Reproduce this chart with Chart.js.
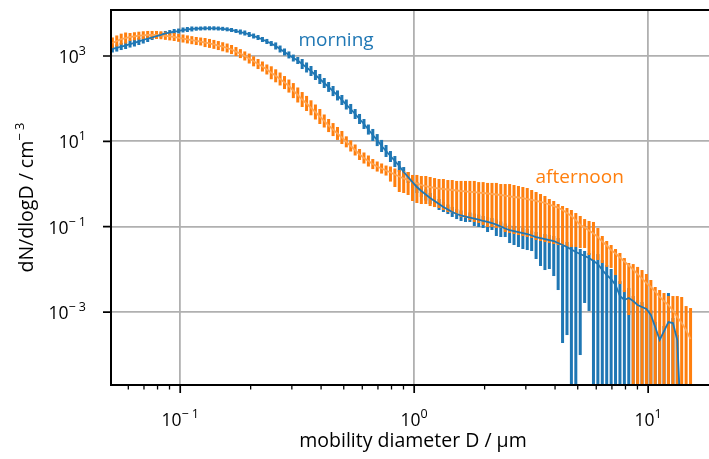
<!DOCTYPE html>
<html><head><meta charset="utf-8">
<script src="https://cdn.jsdelivr.net/npm/chart.js@4.4.1/dist/chart.umd.min.js"></script>
<style>html,body{margin:0;padding:0;background:#fff}#wrap{width:709px;height:459px;position:relative}canvas{display:block}</style>
</head><body><div id="wrap"><canvas id="c" width="709" height="459" style="width:709px;height:459px"></canvas></div>
<script>
// mobility diameter D / µm (shared by both series)
const diameters = [
0.05129,0.05356,0.05594,0.05843,0.06102,0.06373,0.06656,0.06952,0.07261,0.07583,
0.07920,0.08271,0.08639,0.09022,0.09423,0.09841,0.1028,0.1073,0.1121,0.1171,
0.1223,0.1277,0.1334,0.1393,0.1455,0.1519,0.1587,0.1657,0.1731,0.1808,
0.1888,0.1972,0.2059,0.2151,0.2246,0.2346,0.2450,0.2559,0.2672,0.2791,
0.2915,0.3044,0.3180,0.3321,0.3468,0.3622,0.3783,0.3951,0.4126,0.4309,
0.4501,0.4701,0.4909,0.5127,0.5355,0.5593,0.5841,0.6101,0.6372,0.6654,
0.6950,0.7258,0.7581,0.7917,0.8269,0.8636,0.9019,0.9420,0.9838,1.027,
1.073,1.121,1.170,1.222,1.277,1.333,1.393,1.454,1.519,1.586,
1.657,1.730,1.807,1.887,1.971,2.059,2.150,2.245,2.345,2.449,
2.558,2.671,2.790,2.914,3.043,3.178,3.319,3.467,3.621,3.781,
3.949,4.124,4.307,4.499,4.698,4.907,5.125,5.352,5.590,5.838,
6.097,6.368,6.651,6.946,7.254,7.576,7.913,8.264,8.631,9.014,
9.414,9.832,10.27,10.72,11.20,11.69,12.21,12.76,13.32,13.91,
14.53,15.18];

// morning: dN/dlogD / cm^-3 (centre, upper and lower end of the error bar; 0 = reaches below the axis)
const morning = [
1.46e3,1.54e3,1.67e3,1.76e3,1.91e3,2.02e3,2.19e3,2.37e3,2.57e3,2.71e3,
2.94e3,3.11e3,3.37e3,3.55e3,3.75e3,3.85e3,4.07e3,4.18e3,4.30e3,4.36e3,
4.41e3,4.46e3,4.46e3,4.46e3,4.41e3,4.34e3,4.22e3,4.07e3,3.85e3,3.65e3,
3.46e3,3.19e3,2.94e3,2.71e3,2.44e3,2.19e3,1.96e3,1.72e3,1.46e3,1.24e3,
1.06e3,898,784,649,538,445,359,289,233,188,
151,119,93.1,73.0,57.3,43.7,33.4,25.5,18.9,14.1,
10.7,7.78,5.94,4.53,3.46,2.64,1.91,1.46,1.11,0.851,
0.686,0.568,0.470,0.400,0.340,0.289,0.253,0.221,0.198,0.183,
0.173,0.164,0.155,0.147,0.136,0.129,0.122,0.112,0.101,0.0907,
0.0836,0.0792,0.0750,0.0711,0.0674,0.0621,0.0573,0.0543,0.0514,0.0487,
0.0462,0.0414,0.0372,0.0334,0.0292,0.0255,0.0229,0.0206,0.0184,0.0157,
0.0133,0.00965,0.00737,0.00594,0.00430,0.00237,0.00191,0.00213,0.00181,0.00146,
0.00131,0.00118,0.000851,0.000446,0.000221,0.000359,0.000583,0.000553,0.000221,1e-6,
null,null];
const morningHigh = [
1.76e3,1.86e3,2.02e3,2.13e3,2.31e3,2.44e3,2.65e3,2.86e3,3.10e3,3.10e3,
3.36e3,3.56e3,3.86e3,4.06e3,4.29e3,4.40e3,4.66e3,4.78e3,4.92e3,4.86e3,
4.91e3,4.97e3,4.97e3,4.97e3,4.91e3,4.83e3,4.70e3,4.53e3,4.29e3,4.18e3,
3.96e3,3.65e3,3.36e3,3.10e3,2.79e3,2.51e3,2.24e3,2.08e3,1.76e3,1.50e3,
1.28e3,1.08e3,947,850,705,583,470,379,305,246,
198,156,122,95.6,75.1,57.2,43.8,33.4,24.8,19.5,
14.8,10.8,8.21,5.93,4.53,3.46,2.50,1.91,1.45,1.11,
0.899,0.744,0.616,0.524,0.445,0.379,0.331,0.290,0.259,0.240,
0.227,0.215,0.203,0.193,0.178,0.169,0.160,0.147,0.132,0.119,
0.110,0.104,0.0983,0.0931,0.0883,0.0814,0.0751,0.0711,0.0673,0.0638,
0.0605,0.0542,0.0487,0.0438,0.0383,0.0334,0.0300,0.0270,0.0241,0.0269,
0.0228,0.0165,0.0126,0.0102,0.00737,0.00530,0.00328,0.00365,0.00237,0.00191,
0.00172,0.00155,0.00111,0.000584,0.000290,0.000470,0.00279,0.000724,0.000290,null,
null,null];
const morningLow = [
1.21e3,1.27e3,1.38e3,1.46e3,1.58e3,1.67e3,1.81e3,1.96e3,2.13e3,2.37e3,
2.57e3,2.72e3,2.95e3,3.10e3,3.28e3,3.37e3,3.56e3,3.65e3,3.76e3,3.91e3,
3.96e3,4.00e3,4.00e3,4.00e3,3.96e3,3.90e3,3.79e3,3.65e3,3.46e3,3.19e3,
3.02e3,2.79e3,2.57e3,2.37e3,2.13e3,1.91e3,1.71e3,1.42e3,1.21e3,1.03e3,
877,743,649,495,411,340,274,221,178,144,
115,90.8,71.1,55.7,43.7,33.4,25.5,19.5,14.4,10.2,
7.74,5.63,4.30,3.28,2.50,1.91,1.38,1.06,0.803,0.616,
0.496,0.411,0.340,0.289,0.246,0.221,0.198,0.169,0.151,0.136,
0.129,0.129,0.104,0.0983,0.0931,0.0750,0.0836,0.0605,0.0573,0.0573,
0.0414,0.0372,0.0334,0.0300,0.0284,0.0269,0.0175,0.0120,0.00965,0.0102,
0.00698,0.00328,0.000188,0.000289,0,0,0.0000983,0.00163,0.00106,0,
0,0,0,0,0,0,0,0,0,0,
0,0,0,0,0,0,0,0,0,null,
null,null];

// afternoon
const afternoon = [
2.02e3,2.25e3,2.48e3,2.64e3,2.79e3,2.90e3,2.99e3,3.06e3,3.11e3,3.11e3,
3.11e3,3.06e3,2.97e3,2.88e3,2.79e3,2.67e3,2.57e3,2.45e3,2.35e3,2.25e3,
2.18e3,2.07e3,1.97e3,1.87e3,1.76e3,1.65e3,1.54e3,1.42e3,1.27e3,1.14e3,
1.00e3,874,751,649,567,483,404,344,289,239,
198,155,122,95.6,77.1,61.1,48.7,38.2,30.0,23.5,
18.9,15.3,12.3,9.75,7.78,6.27,4.92,4.07,3.46,2.94,
2.57,2.31,2.07,1.86,1.67,1.50,1.35,1.23,1.11,1.03,
0.948,0.898,0.851,0.815,0.785,0.764,0.744,0.724,0.705,0.686,
0.671,0.657,0.643,0.629,0.616,0.599,0.583,0.568,0.553,0.532,
0.515,0.496,0.483,0.465,0.445,0.427,0.404,0.383,0.359,0.331,
0.305,0.281,0.246,0.209,0.178,0.143,0.110,0.0956,0.0814,0.0692,
0.0573,0.0449,0.0362,0.0284,0.0235,0.0190,0.0153,0.0123,0.00992,0.00778,
0.00610,0.00479,0.00386,0.00303,0.00225,0.00181,0.00146,0.00109,0.000764,0.000553,
0.000379,0.000233];
const afternoonHigh = [
2.72e3,3.03e3,3.34e3,3.55e3,3.46e3,3.60e3,3.71e3,3.80e3,3.86e3,3.86e3,
3.86e3,3.80e3,3.69e3,3.57e3,3.46e3,3.31e3,3.19e3,3.04e3,2.92e3,2.79e3,
2.71e3,2.64e3,2.51e3,2.38e3,2.24e3,2.10e3,1.96e3,1.81e3,1.62e3,1.45e3,
1.28e3,1.14e3,984,850,743,633,574,488,410,339,
281,232,183,143,116,91.6,73.0,57.3,42.6,33.4,
26.8,21.7,17.5,13.1,10.5,8.44,6.62,5.48,4.66,3.85,
3.37,3.03,2.71,2.57,2.31,2.13,2.02,1.91,1.63,1.63,
1.54,1.54,1.46,1.38,1.31,1.31,1.24,1.24,1.18,1.18,
1.18,1.18,1.18,1.11,1.11,1.06,1.06,1.06,1.00,1.00,
1.00,0.948,0.898,0.851,0.806,0.724,0.650,0.583,0.524,0.445,
0.400,0.340,0.305,0.274,0.246,0.209,0.178,0.151,0.136,0.129,
0.0931,0.0605,0.0462,0.0372,0.0300,0.0242,0.0184,0.0141,0.0133,0.0114,
0.00965,0.00778,0.00563,0.00386,0.00328,0.00279,0.00237,0.00237,0.00237,0.00225,
0.00138,0.00124];
const afternoonLow = [
1.50e3,1.67e3,1.84e3,1.96e3,2.25e3,2.34e3,2.41e3,2.47e3,2.51e3,2.51e3,
2.51e3,2.47e3,2.39e3,2.32e3,2.25e3,2.15e3,2.07e3,1.97e3,1.89e3,1.81e3,
1.76e3,1.62e3,1.55e3,1.47e3,1.38e3,1.29e3,1.21e3,1.11e3,996,894,
784,667,573,495,433,369,285,242,204,168,
139,103,81.4,63.8,51.4,40.8,32.5,25.5,21.1,16.5,
13.3,10.8,8.66,7.24,5.78,4.66,3.66,3.02,2.57,2.24,
1.96,1.76,1.58,1.14,0.851,0.650,0.616,0.553,0.400,0.359,
0.340,0.340,0.305,0.289,0.274,0.246,0.221,0.209,0.188,0.169,
0.160,0.143,0.129,0.122,0.110,0.0983,0.0983,0.0931,0.0931,0.0750,
0.0711,0.0674,0.0638,0.0605,0.0573,0.0543,0.0487,0.0462,0.0437,0.0414,
0.0393,0.0372,0.0353,0.0334,0.0334,0.0334,0.0317,0.0317,0.0217,0.0166,
0.0166,0.0141,0.0114,0.0108,0.00737,0.00453,0.00294,0.000851,0,0,
0,0,0,0,0,0,0,0,0,0,
0,0];

// axis ticks and labels
const xMajorTicks = [0.1, 1, 10];
const xTickLabels = [['10','\u2212 1'],['10','0'],['10','1']];
const xMinorTicks = [0.06,0.07,0.08,0.09,0.2,0.3,0.4,0.5,0.6,0.7,0.8,0.9,2,3,4,5,6,7,8,9];
const yMajorTicks = [1e3, 1e1, 1e-1, 1e-3];
const yTickLabels = [['10','3'],['10','1'],['10','\u2212 1'],['10','\u2212 3']];
const xTitle = 'mobility diameter D / \u00b5m';
const yTitle = ['dN/dlogD / cm', '\u2212 3'];
const seriesNames = ['morning', 'afternoon'];

const BLUE = '#1f77b4', ORANGE = '#ff7f0e';
const FAM = "'Open Sans', sans-serif";
const W = 709, H = 459;

const pts = ys => diameters.map((d, i) => ({x: d, y: ys[i] === undefined ? null : ys[i]}));

function drawPow(ctx, x, yb, base, exp, align, bs, es, raise) {
  ctx.font = bs + 'px ' + FAM; const wb = ctx.measureText(base).width;
  ctx.font = es + 'px ' + FAM; const we = ctx.measureText(exp).width;
  const left = align === 'center' ? x - (wb + we) / 2 : x - (wb + we);
  ctx.textAlign = 'left'; ctx.textBaseline = 'alphabetic';
  ctx.font = bs + 'px ' + FAM; ctx.fillText(base, left, yb);
  ctx.font = es + 'px ' + FAM; ctx.fillText(exp, left + wb, yb - raise);
}

const errPlugin = {
  id: 'errbars',
  beforeDatasetsDraw(chart) {
    const {ctx, chartArea: a, scales: {x, y}} = chart;
    ctx.save();
    ctx.beginPath(); ctx.rect(a.left, a.top, a.right - a.left, a.bottom - a.top); ctx.clip();
    const series = [[morningLow, morningHigh, BLUE], [afternoonLow, afternoonHigh, ORANGE]];
    for (const [lo, hi, col] of series) {
      ctx.fillStyle = col;
      for (let i = 0; i < diameters.length; i++) {
        if (hi[i] == null || lo[i] == null) continue;
        const px = x.getPixelForValue(diameters[i]);
        const yt = y.getPixelForValue(hi[i]);
        const yb = lo[i] > 0 ? y.getPixelForValue(lo[i]) : a.bottom;
        ctx.fillRect(px - 1.5, yt, 3, yb - yt);
      }
    }
    ctx.restore();
  },
  afterDraw(chart) {
    const {ctx, chartArea: a, scales: {x, y}} = chart;
    ctx.save();
    // spines
    ctx.strokeStyle = '#000'; ctx.lineWidth = 2;
    ctx.beginPath();
    ctx.moveTo(a.right, a.top); ctx.lineTo(a.left, a.top); ctx.lineTo(a.left, a.bottom); ctx.lineTo(a.right, a.bottom);
    ctx.stroke();
    // ticks
    ctx.lineWidth = 1.7;
    ctx.beginPath();
    for (const v of xMajorTicks) { const p = x.getPixelForValue(v); ctx.moveTo(p, a.bottom); ctx.lineTo(p, a.bottom + 8); }
    for (const v of yMajorTicks) { const p = y.getPixelForValue(v); ctx.moveTo(a.left, p); ctx.lineTo(a.left - 8, p); }
    ctx.stroke();
    ctx.lineWidth = 1.3;
    ctx.beginPath();
    for (const v of xMinorTicks) { const p = x.getPixelForValue(v); ctx.moveTo(p, a.bottom); ctx.lineTo(p, a.bottom + 4.5); }
    ctx.stroke();
    // tick labels
    ctx.fillStyle = '#000';
    xMajorTicks.forEach((v, i) => drawPow(ctx, x.getPixelForValue(v), 426, xTickLabels[i][0], xTickLabels[i][1], 'center', 17.5, 12.5, 8));
    yMajorTicks.forEach((v, i) => drawPow(ctx, 86, y.getPixelForValue(v) + 7, yTickLabels[i][0], yTickLabels[i][1], 'right', 17.5, 12.5, 8));
    // axis titles
    ctx.font = '19.5px ' + FAM; ctx.textAlign = 'center'; ctx.textBaseline = 'alphabetic';
    ctx.fillText(xTitle, 413, 447);
    ctx.save();
    ctx.translate(33, (a.top + a.bottom) / 2); ctx.rotate(-Math.PI / 2);
    ctx.font = '19.5px ' + FAM; const w1 = ctx.measureText(yTitle[0]).width;
    ctx.font = '13px ' + FAM; const w2 = ctx.measureText(yTitle[1]).width;
    ctx.textAlign = 'left';
    ctx.font = '19.5px ' + FAM; ctx.fillText(yTitle[0], -(w1 + w2) / 2, 0);
    ctx.font = '13px ' + FAM; ctx.fillText(yTitle[1], -(w1 + w2) / 2 + w1, -9);
    ctx.restore();
    // series annotations
    ctx.font = '19px ' + FAM; ctx.textAlign = 'left';
    ctx.fillStyle = BLUE; ctx.fillText(seriesNames[0], x.getPixelForValue(0.32), y.getPixelForValue(1.7e3));
    ctx.fillStyle = ORANGE; ctx.fillText(seriesNames[1], x.getPixelForValue(3.3), y.getPixelForValue(1.05));
    ctx.restore();
  }
};

new Chart(document.getElementById('c'), {
  type: 'line',
  data: {
    datasets: [
      {label: 'morning', data: pts(morning), borderColor: BLUE, borderWidth: 1.8, pointRadius: 0, tension: 0, spanGaps: false},
      {label: 'afternoon', data: pts(afternoon), borderColor: '#ffa552', borderWidth: 1.8, pointRadius: 0, tension: 0}
    ]
  },
  options: {
    responsive: false, maintainAspectRatio: false, animation: false, devicePixelRatio: 1,
    layout: {padding: {top: 10, right: 0, left: 0, bottom: 0}},
    plugins: {legend: {display: false}, tooltip: {enabled: false}},
    scales: {
      x: {
        type: 'logarithmic', min: 0.0506, max: 18.2,
        afterBuildTicks: s => { s.ticks = xMajorTicks.map(v => ({value: v})); },
        afterFit: s => { s.height = H - 385; },
        ticks: {display: false},
        grid: {color: '#b0b0b0', lineWidth: 1.8, drawTicks: false},
        border: {display: false}
      },
      y: {
        type: 'logarithmic', min: 1.95e-5, max: 1.197e4,
        afterBuildTicks: s => { s.ticks = yMajorTicks.map(v => ({value: v})); },
        afterFit: s => { s.width = 111; },
        ticks: {display: false},
        grid: {color: '#b0b0b0', lineWidth: 1.8, drawTicks: false},
        border: {display: false}
      }
    }
  },
  plugins: [errPlugin]
});
</script></body></html>
